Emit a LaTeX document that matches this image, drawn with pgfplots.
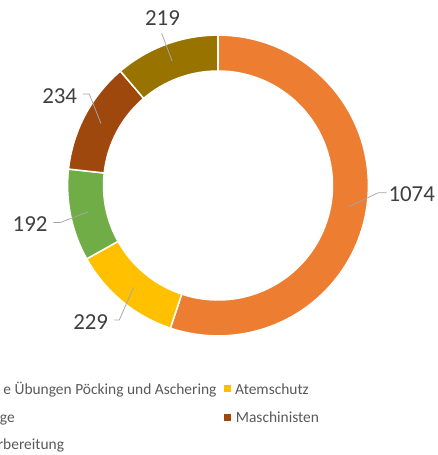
\documentclass[border=0pt]{standalone}
\usepackage{pgfplots}
\pgfplotsset{compat=1.18}
\usepackage{pgfplotstable}
\usepackage{fontspec}
\setmainfont{Carlito}
\definecolor{cOrange}{HTML}{ED7D31}
\definecolor{cYellow}{HTML}{FFC000}
\definecolor{cGreen}{HTML}{70AD47}
\definecolor{cBrown}{HTML}{9E480E}
\definecolor{cOlive}{HTML}{997300}
\definecolor{labgray}{HTML}{404040}
\definecolor{leggray}{HTML}{595959}
\definecolor{leadgray}{HTML}{A6A6A6}
\tikzset{
  lab/.style={text=labgray, inner sep=0pt, font=\fontsize{23}{27}\selectfont},
  leg/.style={text=leggray, inner sep=0pt, font=\fontsize{15.5}{18}\selectfont},
  leader/.style={draw=leadgray, line width=0.75bp},
}
\pgfplotstableread{
idx value
1 1074
2 229
3 192
4 234
5 219
}\donutdata
\pgfplotstablegetelem{0}{value}\of\donutdata \edef\vA{\pgfplotsretval}
\pgfplotstablegetelem{1}{value}\of\donutdata \edef\vB{\pgfplotsretval}
\pgfplotstablegetelem{2}{value}\of\donutdata \edef\vC{\pgfplotsretval}
\pgfplotstablegetelem{3}{value}\of\donutdata \edef\vD{\pgfplotsretval}
\pgfplotstablegetelem{4}{value}\of\donutdata \edef\vE{\pgfplotsretval}
\pgfmathsetmacro\total{\vA+\vB+\vC+\vD+\vE}
\pgfmathsetmacro\aA{90}
\pgfmathsetmacro\aB{\aA-360*(\vA/\total)}
\pgfmathsetmacro\aC{\aB-360*(\vB/\total)}
\pgfmathsetmacro\aD{\aC-360*(\vC/\total)}
\pgfmathsetmacro\aE{\aD-360*(\vD/\total)}
\pgfmathsetmacro\aF{\aE-360*(\vE/\total)}
\def\cx{218}\def\cy{269.5}
\def\Ro{150.4}\def\Ri{114.5}\def\Rm{132.45}
% mid points of ring for leader lines
\pgfmathsetmacro\mA{(\aA+\aB)/2}\pgfmathsetmacro\pAx{\cx+\Rm*cos(\mA)}\pgfmathsetmacro\pAy{\cy+\Rm*sin(\mA)}
\pgfmathsetmacro\mB{(\aB+\aC)/2}\pgfmathsetmacro\pBx{\cx+\Rm*cos(\mB)}\pgfmathsetmacro\pBy{\cy+\Rm*sin(\mB)}
\pgfmathsetmacro\mC{(\aC+\aD)/2}\pgfmathsetmacro\pCx{\cx+\Rm*cos(\mC)}\pgfmathsetmacro\pCy{\cy+\Rm*sin(\mC)}
\pgfmathsetmacro\mD{(\aD+\aE)/2}\pgfmathsetmacro\pDx{\cx+\Rm*cos(\mD)}\pgfmathsetmacro\pDy{\cy+\Rm*sin(\mD)}
\pgfmathsetmacro\mE{(\aE+\aF)/2}\pgfmathsetmacro\pEx{\cx+\Rm*cos(\mE)}\pgfmathsetmacro\pEy{\cy+\Rm*sin(\mE)}
\newcommand\ringseg[3]{%
  \fill[#3, draw=white, line width=1.5bp, shift={(axis cs:\cx,\cy)}]
    (#1:\Ro bp) arc[start angle=#1, end angle=#2, radius=\Ro bp]
    -- (#2:\Ri bp) arc[start angle=#2, end angle=#1, radius=\Ri bp] -- cycle;}
\begin{document}
\begin{tikzpicture}
\path[use as bounding box] (0,0) rectangle (438bp,455bp);
\begin{axis}[
  x=1bp, y=1bp, xmin=0, xmax=438, ymin=0, ymax=455,
  hide axis, clip=false,
]
\addplot[draw=none] coordinates {(0,0) (438,455)};
\ringseg{\aA}{\aB}{cOrange}
\ringseg{\aB}{\aC}{cYellow}
\ringseg{\aC}{\aD}{cGreen}
\ringseg{\aD}{\aE}{cBrown}
\ringseg{\aE}{\aF}{cOlive}
% leader lines
\draw[leader] (axis cs:386.7,262.3) -- (axis cs:378.3,262.3) -- (axis cs:\pAx,\pAy);
\draw[leader] (axis cs:114.3,135) -- (axis cs:119.3,135) -- (axis cs:\pBx,\pBy);
\draw[leader] (axis cs:53.3,232.5) -- (axis cs:60.3,232.5) -- (axis cs:\pCx,\pCy);
\draw[leader] (axis cs:82.7,361) -- (axis cs:89.3,361) -- (axis cs:\pDx,\pDy);
\draw[leader] (axis cs:161.7,421.7) -- (axis cs:\pEx,\pEy);
% data labels
\node[lab, anchor=west] at (axis cs:388.3,260.5) {1074};
\node[lab, anchor=east] at (axis cs:108.3,133.3) {229};
\node[lab, anchor=east] at (axis cs:47.7,230.7) {192};
\node[lab, anchor=east] at (axis cs:77.3,359.3) {234};
\node[lab, anchor=center] at (axis cs:162.5,436.7) {219};
% legend
\node[leg, anchor=base east] at (axis cs:216.7,61) {e Übungen Pöcking und Aschering};
\fill[cYellow] (axis cs:224,63) rectangle (axis cs:230.7,69.7);
\node[leg, anchor=base west] at (axis cs:235,61) {Atemschutz};
\node[leg, anchor=base east] at (axis cs:15,32.7) {ge};
\fill[cBrown] (axis cs:224,34.3) rectangle (axis cs:230.7,41);
\node[leg, anchor=base west] at (axis cs:235.7,32.7) {Maschinisten};
\node[leg, anchor=base east] at (axis cs:64.3,6) {rbereitung};
\end{axis}
\end{tikzpicture}
\end{document}
